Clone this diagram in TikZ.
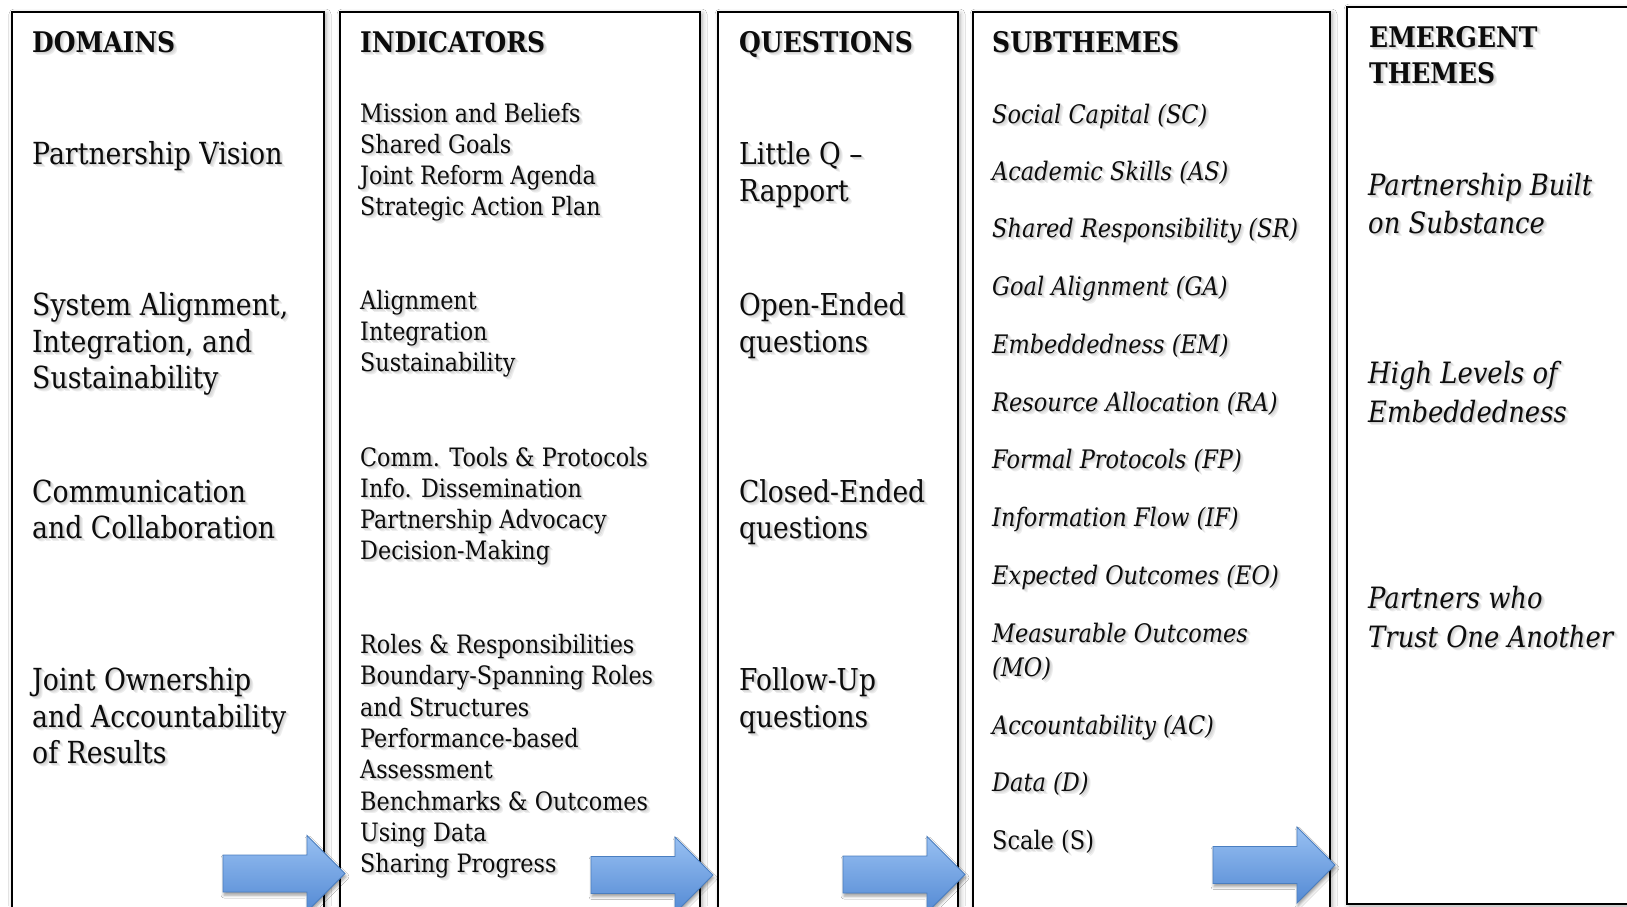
\documentclass[tikz,border=0pt]{standalone}
\usepackage{fontspec}
\setmainfont[FakeStretch=0.88]{DejaVu Serif}
\usetikzlibrary{shadows.blur}
\definecolor{arrtop}{RGB}{152,192,242}
\definecolor{arrbot}{RGB}{84,138,212}
\definecolor{arredge}{RGB}{74,126,192}
\definecolor{txt}{RGB}{12,12,12}
\newlength\fitw
\newcommand\mkfit[4]{\settowidth\fitw{\normalfont\fontsize{10pt}{12pt}\selectfont#2#3}\pgfmathsetmacro#1{10*#4/\fitw}\global\let#1#1}
\AtBeginDocument{%
\mkfit\hsz{\bfseries}{INDICATORS}{185}%
\mkfit\dsz{}{and Accountability}{254}%
\mkfit\isz{}{Boundary-Spanning Roles}{293}%
\mkfit\qsz{}{Closed-Ended}{186}%
\mkfit\ssz{\itshape}{Shared Responsibility (SR)}{306}%
\mkfit\esz{\itshape}{Trust One Another}{245}%
}
\newcommand\shadowed[1]{\rlap{\kern3.4pt\raisebox{-3.8pt}{\color{black!7}#1}}\rlap{\kern2.4pt\raisebox{-2.8pt}{\color{black!12}#1}}\rlap{\kern1.4pt\raisebox{-1.8pt}{\color{black!17}#1}}#1}
\newcommand\blkarrow[2]{\path[blockarrow] ({#1},{#2-18.5}) -- ({#1+84},{#2-18.5}) -- ({#1+84},{#2-38}) -- ({#1+122},{#2}) -- ({#1+84},{#2+38}) -- ({#1+84},{#2+18.5}) -- ({#1},{#2+18.5}) -- cycle;}
\newcommand\txtat[5]{\node[#1] (#2) at (#3,#4) {\shadowed{#5}};}
\tikzset{
  colbox/.style={draw=black, line width=1.8pt, fill=white,
    blur shadow={shadow xshift=2pt, shadow yshift=-2pt, shadow blur radius=5pt, shadow opacity=35}},
  blockarrow/.style={draw=arredge, line width=0.9pt, top color=arrtop, bottom color=arrbot, line join=miter,
    blur shadow={shadow xshift=1pt, shadow yshift=-3pt, shadow blur radius=3pt, shadow opacity=40}},
  basetxt/.style={anchor=base west, inner sep=0pt, text=txt},
  headtxt/.style={basetxt, font=\fontsize{\hsz}{\hsz}\selectfont\bfseries},
  domtxt/.style={basetxt, font=\fontsize{\dsz}{\dsz}\selectfont},
  indtxt/.style={basetxt, font=\fontsize{\isz}{\isz}\selectfont},
  questxt/.style={basetxt, font=\fontsize{\qsz}{\qsz}\selectfont},
  subtxt/.style={basetxt, font=\fontsize{\ssz}{\ssz}\selectfont\itshape},
  subuptxt/.style={basetxt, font=\fontsize{\ssz}{\ssz}\selectfont},
  emtxt/.style={basetxt, font=\fontsize{\esz}{\esz}\selectfont\itshape},
}
\begin{document}
\begin{tikzpicture}[x=1pt,y=-1pt]
\useasboundingbox (0,0) rectangle (1627,906);
\fill[white] (0,0) rectangle (1627,906);
\clip (0,0) rectangle (1627,906);
% column boxes
\path[colbox] (12,12) rectangle (324,940);
\path[colbox] (340,12) rectangle (700,940);
\path[colbox] (718,12) rectangle (958,940);
\path[colbox] (973,12) rectangle (1330,940);
\path[colbox] (1347,7) rectangle (1660,904);
% block arrows
\blkarrow{223}{873.5}
\blkarrow{591}{875}
\blkarrow{843}{874.5}
\blkarrow{1213}{865}
% headings
\txtat{headtxt}{hdom}{32}{52}{DOMAINS}
\txtat{headtxt}{hind}{360}{52}{INDICATORS}
\txtat{headtxt}{hque}{739}{52}{QUESTIONS}
\txtat{headtxt}{hsub}{992}{52}{SUBTHEMES}
\txtat{headtxt}{hem1}{1369}{47}{EMERGENT}
\txtat{headtxt}{hem2}{1369}{83}{THEMES}
% domains
\txtat{domtxt}{d1}{32}{164}{Partnership Vision}
\txtat{domtxt}{d2a}{32}{315}{System Alignment,}
\txtat{domtxt}{d2b}{32}{352}{Integration, and}
\txtat{domtxt}{d2c}{32}{388}{Sustainability}
\txtat{domtxt}{d3a}{32}{502}{Communication}
\txtat{domtxt}{d3b}{32}{538}{and Collaboration}
\txtat{domtxt}{d4a}{32}{690}{Joint Ownership}
\txtat{domtxt}{d4b}{32}{727}{and Accountability}
\txtat{domtxt}{d4c}{32}{763}{of Results}
% indicators
\txtat{indtxt}{i1}{360}{122}{Mission and Beliefs}
\txtat{indtxt}{i2}{360}{153}{Shared Goals}
\txtat{indtxt}{i3}{360}{184}{Joint Reform Agenda}
\txtat{indtxt}{i4}{360}{215}{Strategic Action Plan}
\txtat{indtxt}{i5}{360}{309}{Alignment}
\txtat{indtxt}{i6}{360}{340}{Integration}
\txtat{indtxt}{i7}{360}{371}{Sustainability}
\txtat{indtxt}{i8}{360}{466}{Comm. Tools \& Protocols}
\txtat{indtxt}{i9}{360}{497}{Info. Dissemination}
\txtat{indtxt}{i10}{360}{528}{Partnership Advocacy}
\txtat{indtxt}{i11}{360}{559}{Decision-Making}
\txtat{indtxt}{i12}{360}{653}{Roles \& Responsibilities}
\txtat{indtxt}{i13}{360}{684}{Boundary-Spanning Roles}
\txtat{indtxt}{i14}{360}{716}{and Structures}
\txtat{indtxt}{i15}{360}{747}{Performance-based}
\txtat{indtxt}{i16}{360}{778}{Assessment}
\txtat{indtxt}{i17}{360}{810}{Benchmarks \& Outcomes}
\txtat{indtxt}{i18}{360}{841}{Using Data}
\txtat{indtxt}{i19}{360}{872}{Sharing Progress}
% questions
\txtat{questxt}{q1a}{739}{164}{Little Q –}
\txtat{questxt}{q1b}{739}{201}{Rapport}
\txtat{questxt}{q2a}{739}{315}{Open-Ended}
\txtat{questxt}{q2b}{739}{352}{questions}
\txtat{questxt}{q3a}{739}{502}{Closed-Ended}
\txtat{questxt}{q3b}{739}{538}{questions}
\txtat{questxt}{q4a}{739}{690}{Follow-Up}
\txtat{questxt}{q4b}{739}{727}{questions}
% subthemes
\txtat{subtxt}{s1}{992}{123}{Social Capital (SC)}
\txtat{subtxt}{s2}{992}{180}{Academic Skills (AS)}
\txtat{subtxt}{s3}{992}{237}{Shared Responsibility (SR)}
\txtat{subtxt}{s4}{992}{295}{Goal Alignment (GA)}
\txtat{subtxt}{s5}{992}{353}{Embeddedness (EM)}
\txtat{subtxt}{s6}{992}{411}{Resource Allocation (RA)}
\txtat{subtxt}{s7}{992}{468}{Formal Protocols (FP)}
\txtat{subtxt}{s8}{992}{526}{Information Flow (IF)}
\txtat{subtxt}{s9}{992}{584}{Expected Outcomes (EO)}
\txtat{subtxt}{s10a}{992}{642}{Measurable Outcomes}
\txtat{subtxt}{s10b}{992}{676}{(MO)}
\txtat{subtxt}{s11}{992}{734}{Accountability (AC)}
\txtat{subtxt}{s12}{992}{791}{Data (D)}
\txtat{subuptxt}{s13}{992}{849}{Scale (S)}
% emergent themes
\txtat{emtxt}{e1a}{1368}{195}{Partnership Built}
\txtat{emtxt}{e1b}{1368}{233}{on Substance}
\txtat{emtxt}{e2a}{1368}{383}{High Levels of}
\txtat{emtxt}{e2b}{1368}{422}{Embeddedness}
\txtat{emtxt}{e3a}{1368}{608}{Partners who}
\txtat{emtxt}{e3b}{1368}{647}{Trust One Another}
\end{tikzpicture}
\end{document}
